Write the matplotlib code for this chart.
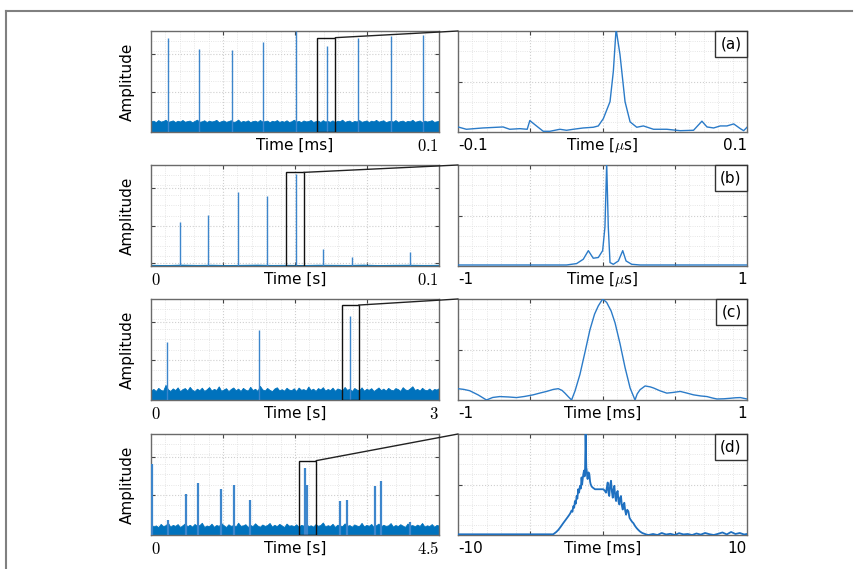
import numpy as np
import matplotlib
matplotlib.use("Agg")
import matplotlib.pyplot as plt
from matplotlib.patches import Rectangle, ConnectionPatch
from matplotlib.offsetbox import AnchoredText
from matplotlib.lines import Line2D
from matplotlib.ticker import MultipleLocator

plt.rcParams['font.family'] = ['DejaVu Sans']
plt.rcParams['mathtext.fontset'] = 'cm'

# ---------------- data ----------------
panel_labels = ['(a)', '(b)', '(c)', '(d)']
left_xmax = [0.1, 0.1, 3.0, 4.5]
left_units = ['Time [ms]', 'Time [s]', 'Time [s]', 'Time [s]']
left_start_labels = ['', '0', '0', '0']
left_end_labels = ['0.1', '0.1', '3', '4.5']
right_xlims = [(-0.1, 0.1), (-1, 1), (-1, 1), (-10, 10)]
right_units = [r'Time [$\mu$s]', r'Time [$\mu$s]', 'Time [ms]', 'Time [ms]']
right_start_labels = ['-0.1', '-1', '-1', '-10']
right_end_labels = ['0.1', '1', '1', '10']

# spikes (left panels)
spikes_a_t = [0.0059, 0.0167, 0.0281, 0.0390, 0.0503, 0.0610, 0.0720, 0.0833, 0.0945]
spikes_a_h = [0.934, 0.826, 0.81, 0.889, 1.0, 0.856, 0.934, 0.948, 0.957]
spikes_b_t = [0.0100, 0.0199, 0.0302, 0.0402, 0.0503, 0.0598, 0.0698, 0.0901]
spikes_b_h = [0.44, 0.507, 0.728, 0.689, 0.914, 0.166, 0.093, 0.142]
spikes_c_t = [0.168, 1.125, 2.073]
spikes_c_h = [0.573, 0.693, 0.833]
spikes_d_t = [0.01, 0.26, 0.55, 0.73, 1.09, 1.29, 1.55, 2.41, 2.44, 2.96, 3.06, 3.50, 3.60, 4.05]
spikes_d_h = [0.70, 0.15, 0.406, 0.518, 0.455, 0.50, 0.347, 0.66, 0.50, 0.34, 0.347, 0.488, 0.535, 0.13]

# noise floors (left panels, fraction of height)
noise_a = [0.105, 0.112, 0.098, 0.118, 0.103, 0.109, 0.121, 0.100, 0.107, 0.115,
           0.099, 0.111, 0.104, 0.119, 0.102, 0.108, 0.113, 0.097, 0.110, 0.122,
           0.101, 0.106, 0.116, 0.099, 0.112, 0.104, 0.109, 0.120, 0.098, 0.107,
           0.114, 0.101, 0.108, 0.117, 0.100, 0.105, 0.123, 0.099, 0.110, 0.103,
           0.115, 0.098, 0.108, 0.112, 0.101, 0.119, 0.104, 0.107, 0.113, 0.097,
           0.111, 0.105, 0.118, 0.100, 0.109, 0.102, 0.116, 0.099, 0.106, 0.121,
           0.103, 0.110, 0.098, 0.114, 0.105, 0.108, 0.119, 0.100, 0.107, 0.112,
           0.099, 0.117, 0.104, 0.109, 0.101, 0.115, 0.098, 0.111, 0.106, 0.122,
           0.100, 0.108, 0.113, 0.097, 0.110, 0.104, 0.118, 0.101, 0.107, 0.114,
           0.099, 0.112, 0.105, 0.120, 0.102, 0.109, 0.116, 0.098, 0.106, 0.111,
           0.103, 0.118, 0.100, 0.108, 0.113, 0.099, 0.110, 0.105, 0.121, 0.101,
           0.107, 0.114, 0.098, 0.112, 0.104, 0.109, 0.117, 0.100, 0.106, 0.111]
noise_b = [0.012, 0.010, 0.014, 0.011, 0.013, 0.010, 0.012, 0.014, 0.011, 0.012, 0.010, 0.013,
           0.012, 0.011, 0.014, 0.010, 0.012, 0.013, 0.011, 0.012]
noise_c = [0.095, 0.110, 0.088, 0.120, 0.100, 0.092, 0.150, 0.105, 0.090, 0.115,
           0.098, 0.125, 0.087, 0.108, 0.118, 0.093, 0.130, 0.101, 0.089, 0.112,
           0.097, 0.122, 0.090, 0.106, 0.128, 0.094, 0.110, 0.099, 0.135, 0.091,
           0.104, 0.117, 0.088, 0.109, 0.124, 0.096, 0.113, 0.089, 0.120, 0.102,
           0.093, 0.131, 0.098, 0.111, 0.090, 0.140, 0.105, 0.094, 0.119, 0.100,
           0.088, 0.114, 0.126, 0.095, 0.107, 0.092, 0.121, 0.103, 0.097, 0.116,
           0.089, 0.123, 0.101, 0.108, 0.094, 0.133, 0.099, 0.112, 0.090, 0.118,
           0.104, 0.127, 0.093, 0.109, 0.098, 0.122, 0.091, 0.114, 0.106, 0.095,
           0.129, 0.100, 0.112, 0.088, 0.119, 0.103, 0.096, 0.125, 0.092, 0.110,
           0.101, 0.117, 0.089, 0.106, 0.124, 0.097, 0.113, 0.093, 0.120, 0.102,
           0.095, 0.118, 0.108, 0.090, 0.127, 0.104, 0.098, 0.115, 0.136, 0.099,
           0.110, 0.093, 0.121, 0.101, 0.096, 0.114, 0.091, 0.109, 0.103, 0.118]
noise_d = [0.105, 0.085, 0.095, 0.078, 0.110, 0.088, 0.097, 0.120, 0.082, 0.100,
           0.090, 0.108, 0.079, 0.096, 0.115, 0.086, 0.101, 0.083, 0.109, 0.092,
           0.098, 0.121, 0.080, 0.094, 0.087, 0.112, 0.081, 0.099, 0.090, 0.118,
           0.097, 0.079, 0.106, 0.089, 0.100, 0.084, 0.122, 0.091, 0.095, 0.107,
           0.080, 0.099, 0.088, 0.116, 0.093, 0.082, 0.104, 0.090, 0.098, 0.119,
           0.083, 0.101, 0.087, 0.110, 0.095, 0.079, 0.113, 0.092, 0.097, 0.086,
           0.106, 0.081, 0.100, 0.093, 0.117, 0.088, 0.096, 0.083, 0.108, 0.091,
           0.099, 0.124, 0.084, 0.097, 0.089, 0.111, 0.080, 0.102, 0.094, 0.087,
           0.115, 0.090, 0.098, 0.082, 0.105, 0.093, 0.088, 0.120, 0.085, 0.100,
           0.091, 0.109, 0.079, 0.097, 0.113, 0.086, 0.101, 0.090, 0.095, 0.118,
           0.083, 0.099, 0.088, 0.107, 0.092, 0.081, 0.114, 0.094, 0.098, 0.086,
           0.103, 0.090, 0.119, 0.084, 0.096, 0.089, 0.108, 0.082, 0.100, 0.093]

# zoom boxes (left panels): x0, x1, top
zoom_a = (0.0577, 0.0640, 0.934)
zoom_b = (0.0470, 0.0530, 0.927)
zoom_c = (1.989, 2.163, 0.94)
zoom_d = (2.32, 2.58, 0.736)

# pulse shapes (right panels)
pulse_a_t = [-0.1, -0.0942, -0.0827, -0.0688, -0.0642, -0.0572, -0.0521, -0.0503, -0.0457, -0.0410,
             -0.0364, -0.0295, -0.0249, -0.0202, -0.0133, -0.0064, -0.0029, 0.0006, 0.0052, 0.0075,
             0.0094, 0.0121, 0.0156, 0.0191, 0.0237, 0.0283, 0.0353, 0.0445, 0.0538, 0.0630, 0.0688,
             0.0723, 0.0769, 0.0815, 0.0861, 0.0908, 0.0954, 0.0977, 0.1]
pulse_a_y = [0.05, 0.027, 0.04, 0.05, 0.027, 0.033, 0.027, 0.113, 0.06, 0.007,
             0.007, 0.027, 0.017, 0.027, 0.04, 0.047, 0.06, 0.133, 0.30, 0.60,
             1.02, 0.767, 0.30, 0.10, 0.047, 0.06, 0.027, 0.027, 0.013, 0.017, 0.107,
             0.05, 0.04, 0.06, 0.06, 0.08, 0.033, 0.013, 0.047]
pulse_b_t = [-1, -0.6, -0.249, -0.179, -0.133, -0.098, -0.064, -0.029, 0.001, 0.017, 0.029, 0.040,
             0.052, 0.075, 0.110, 0.140, 0.163, 0.202, 0.260, 0.6, 1]
pulse_b_y = [0.01, 0.01, 0.01, 0.024, 0.067, 0.152, 0.077, 0.084, 0.152, 0.387, 1.02, 0.387,
             0.034, 0.017, 0.05, 0.152, 0.05, 0.017, 0.01, 0.01, 0.01]
pulse_c_t = [-1, -0.96, -0.919, -0.86, -0.803, -0.76, -0.711, -0.65, -0.595, -0.54, -0.480, -0.43,
             -0.387, -0.34, -0.306, -0.28, -0.260, -0.235, -0.214, -0.19, -0.156, -0.121, -0.087,
             -0.055, -0.029, 0.001, 0.029, 0.06, 0.087, 0.121, 0.156, 0.191, 0.225, 0.24, 0.260,
             0.295, 0.33, 0.353, 0.40, 0.445, 0.49, 0.538, 0.58, 0.630, 0.68, 0.723, 0.76, 0.792,
             0.84, 0.884, 0.92, 0.954, 1]
pulse_c_y = [0.112, 0.105, 0.092, 0.05, 0.0, 0.025, 0.034, 0.03, 0.024, 0.035, 0.051, 0.07,
             0.085, 0.105, 0.112, 0.095, 0.068, 0.03, 0.0, 0.09, 0.254, 0.475, 0.695,
             0.85, 0.932, 1.0, 0.966, 0.88, 0.763, 0.559, 0.322, 0.119, 0.0, 0.06, 0.102,
             0.139, 0.13, 0.119, 0.09, 0.068, 0.075, 0.085, 0.07, 0.051, 0.04, 0.034, 0.02, 0.01,
             0.012, 0.017, 0.022, 0.024, 0.01]
pulse_d_t = [-10, -6.6, -3.41, -3.2, -3.06, -2.9, -2.72, -2.55, -2.37, -2.25, -2.14, -2.08, -2.02,
             -1.96, -1.91, -1.85, -1.79, -1.74, -1.68, -1.62, -1.56, -1.50, -1.45, -1.41, -1.38,
             -1.33, -1.28, -1.24, -1.21, -1.17, -1.12, -1.10, -1.06, -1.03, -0.97, -0.91, -0.86,
             -0.82, -0.75, -0.68, -0.52, 0.06, 0.15, 0.24, 0.30, 0.36, 0.41, 0.47, 0.53, 0.59,
             0.65, 0.71, 0.76, 0.82, 0.88, 0.94, 0.99, 1.05, 1.11, 1.17, 1.22, 1.28, 1.34, 1.40,
             1.45, 1.51, 1.57, 1.63, 1.71, 1.79, 1.87, 1.95, 2.05, 2.14, 2.25, 2.37, 2.48, 2.60,
             2.75, 2.88, 3.03, 3.18, 3.5, 3.8, 4.1, 4.4, 4.7, 5.0, 5.3, 5.6, 5.9, 6.2, 6.5,
             6.8, 7.1, 7.4, 7.7, 8.0, 8.3, 8.6, 8.9, 9.2, 9.5, 9.8, 10]
pulse_d_y = [0.007, 0.007, 0.007, 0.03, 0.05, 0.08, 0.117, 0.15, 0.185, 0.21, 0.242, 0.23, 0.285,
             0.27, 0.336, 0.31, 0.386, 0.36, 0.453, 0.42, 0.487, 0.46, 0.570, 0.50, 0.540,
             0.60, 0.638, 0.58, 0.620, 1.0, 0.66, 0.654, 0.58, 0.554, 0.62, 0.604, 0.53,
             0.503, 0.48, 0.470, 0.453, 0.453, 0.44, 0.419, 0.47, 0.520, 0.42, 0.386, 0.50, 0.537,
             0.43, 0.369, 0.45, 0.487, 0.38, 0.336, 0.42, 0.436, 0.33, 0.302, 0.37, 0.386, 0.29, 0.252,
             0.30, 0.319, 0.24, 0.201, 0.25, 0.235, 0.17, 0.151, 0.13, 0.117, 0.09, 0.067, 0.05, 0.034,
             0.02, 0.013, 0.005, 0.0, 0.01, 0.0, 0.02, 0.005, 0.012, 0.0, 0.018, 0.006, 0.01, 0.0, 0.015,
             0.004, 0.02, 0.008, 0.0, 0.012, 0.025, 0.006, 0.03, 0.01, 0.02, 0.005, 0.01]

spikes_t = [spikes_a_t, spikes_b_t, spikes_c_t, spikes_d_t]
spikes_h = [spikes_a_h, spikes_b_h, spikes_c_h, spikes_d_h]
noises = [noise_a, noise_b, noise_c, noise_d]
zooms = [zoom_a, zoom_b, zoom_c, zoom_d]
pulses_t = [pulse_a_t, pulse_b_t, pulse_c_t, pulse_d_t]
pulses_y = [pulse_a_y, pulse_b_y, pulse_c_y, pulse_d_y]

# ---------------- layout ----------------
W, H = 858, 569
fig = plt.figure(figsize=(W / 100, H / 100), dpi=100)
BLUE = '#0072BD'
SPINE = '#6a6a6a'

row_tops = [31, 165, 299, 434]
row_h = 101
lx0, lx1 = 151, 439
rx0, rx1 = 458, 747


def style_axes(ax, yticks, xr):
    ax.set_ylim(0, 1)
    for s in ax.spines.values():
        s.set_color(SPINE)
        s.set_linewidth(1.0)
    ax.set_xticks([xr[0] + (xr[1] - xr[0]) * f for f in (0.25, 0.5, 0.75)])
    ax.set_yticks(yticks)
    ax.xaxis.set_minor_locator(MultipleLocator((xr[1] - xr[0]) / 20))
    ax.yaxis.set_minor_locator(MultipleLocator(0.1))
    ax.tick_params(which='major', direction='in', top=True, right=True, length=3,
                   color='#444444', labelbottom=False, labelleft=False)
    ax.tick_params(which='minor', length=0)
    ax.grid(which='major', color='#cfcfcf', linestyle=':', linewidth=0.8)
    ax.grid(which='minor', color='#dedede', linestyle=':', linewidth=0.6)
    ax.set_axisbelow(True)


for i in range(4):
    bottom = 1 - (row_tops[i] + row_h) / H
    hh = row_h / H
    axL = fig.add_axes([lx0 / W, bottom, (lx1 - lx0) / W, hh])
    axR = fig.add_axes([rx0 / W, bottom, (rx1 - rx0) / W, hh])

    # left panel
    xmax = left_xmax[i]
    axL.set_xlim(0, xmax)
    style_axes(axL, [0.025, 0.4, 0.775], (0, xmax))
    nz = noises[i]
    nx = np.linspace(0, xmax, len(nz))
    axL.fill_between(nx, 0, nz, color=BLUE, lw=0.6, edgecolor=BLUE, zorder=2)
    lw_sp = 1.6 if i == 3 else 1.0
    axL.vlines(spikes_t[i], 0, spikes_h[i], color='#3d86cc', lw=lw_sp, zorder=3)
    zx0, zx1, ztop = zooms[i]
    axL.add_patch(Rectangle((zx0, 0), zx1 - zx0, ztop, fill=False, ec='#111111', lw=1.0, zorder=5))
    axL.set_ylabel('Amplitude', fontsize=11, labelpad=4)
    axL.yaxis.set_label_coords(-0.055, 0.5)
    ty = -0.135
    axL.text(0.5, ty, left_units[i], transform=axL.transAxes, ha='center', va='center', fontsize=11)
    if left_start_labels[i]:
        axL.text(0.0, ty, '$' + left_start_labels[i] + '$', transform=axL.transAxes,
                 ha='left', va='center', fontsize=12)
    axL.text(1.0, ty, '$' + left_end_labels[i] + '$', transform=axL.transAxes,
             ha='right', va='center', fontsize=12)

    # right panel
    xr = right_xlims[i]
    axR.set_xlim(*xr)
    style_axes(axR, [0.5], xr)
    axR.plot(pulses_t[i], pulses_y[i], color='#2b7bc8' if i < 3 else '#1f70c0',
             lw=1.0 if i < 3 else 1.3, zorder=3)
    axR.text(0.5, ty, right_units[i], transform=axR.transAxes, ha='center', va='center', fontsize=11)
    axR.text(0.0, ty, right_start_labels[i], transform=axR.transAxes, ha='left', va='center', fontsize=11)
    axR.text(1.0, ty, right_end_labels[i], transform=axR.transAxes, ha='right', va='center', fontsize=11)
    at = AnchoredText(panel_labels[i], loc='upper right', borderpad=0.0, pad=0.35,
                      prop=dict(size=11), frameon=True)
    at.patch.set_edgecolor('#333333')
    at.patch.set_linewidth(1.0)
    at.patch.set_boxstyle('square,pad=0')
    at.set_zorder(10)
    axR.add_artist(at)

    # connector line
    con = ConnectionPatch(xyA=(zx1, ztop), coordsA=axL.transData,
                          xyB=(0, 1), coordsB=axR.transAxes,
                          color='#222222', lw=1.0)
    fig.add_artist(con)

# page border (top and left)
fig.add_artist(Line2D([6 / W, 852 / W], [1 - 11 / H, 1 - 11 / H], transform=fig.transFigure,
                      color='#808080', lw=1.5))
fig.add_artist(Line2D([6 / W, 6 / W], [0, 1 - 11 / H], transform=fig.transFigure,
                      color='#808080', lw=1.5))

fig.savefig('out.png', dpi=100, facecolor='white')
